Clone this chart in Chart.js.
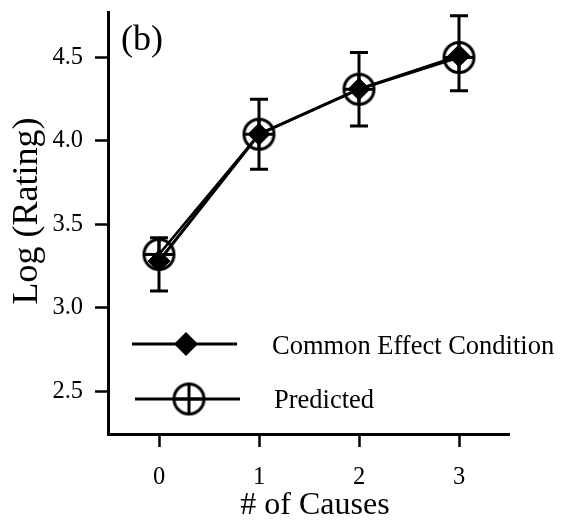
<!DOCTYPE html>
<html>
<head>
<meta charset="utf-8">
<script src="https://cdn.jsdelivr.net/npm/chart.js@4/dist/chart.umd.min.js"></script>
<style>
  html, body { margin: 0; padding: 0; background: #ffffff; }
  #wrap { position: relative; width: 561px; height: 527px; }
</style>
</head>
<body>
<div id="wrap"><canvas id="chart" width="561" height="527"></canvas></div>
<script>
// number of causes on the x axis
const causes = [0, 1, 2, 3];
// mean log rating, common effect condition, with error bar ends
const commonEffect = [3.28, 4.04, 4.31, 4.51];
const ceErrLow = [3.10, 3.83, 4.09, 4.30];
const ceErrHigh = [3.42, 4.25, 4.53, 4.75];
// model prediction
const predicted = [3.32, 4.04, 4.31, 4.50];

const xTickLabels = ['0', '1', '2', '3'];
const yTicks = [2.5, 3.0, 3.5, 4.0, 4.5];
const yTickLabels = ['2.5', '3.0', '3.5', '4.0', '4.5'];
const legendLabels = ['Common Effect Condition', 'Predicted'];
const xTitle = '# of Causes';
const yTitle = 'Log (Rating)';
const panelLabel = '(b)';

const SERIF = '"Liberation Serif", "Times New Roman", serif';

function circleCross(r, lw) {
    const size = Math.ceil(2 * r + lw + 2);
    const c = document.createElement('canvas');
    c.width = size;
    c.height = size;
    const g = c.getContext('2d');
    const m = size / 2;
    g.strokeStyle = '#000';
    g.lineWidth = lw;
    g.beginPath();
    g.arc(m, m, r, 0, Math.PI * 2);
    g.moveTo(m - r, m);
    g.lineTo(m + r, m);
    g.moveTo(m, m - r);
    g.lineTo(m, m + r);
    g.stroke();
    return c;
}

const predMarker = circleCross(15, 3);

function pts(ys) {
    return causes.map(function (x, i) {
        return { x: x, y: ys[i] };
    });
}

// error bars for the common effect condition, drawn through the scales
const errorBars = {
    id: 'errorBars',
    beforeDatasetsDraw: function (chart) {
        const xs = chart.scales.x;
        const ys = chart.scales.y;
        const ctx = chart.ctx;
        ctx.save();
        ctx.strokeStyle = '#000';
        ctx.lineWidth = 3;
        causes.forEach(function (c, i) {
            const px = xs.getPixelForValue(c);
            const lo = ys.getPixelForValue(ceErrLow[i]);
            const hi = ys.getPixelForValue(ceErrHigh[i]);
            ctx.beginPath();
            ctx.moveTo(px, lo);
            ctx.lineTo(px, hi);
            ctx.moveTo(px - 9, lo);
            ctx.lineTo(px + 9, lo);
            ctx.moveTo(px - 9, hi);
            ctx.lineTo(px + 9, hi);
            ctx.stroke();
        });
        ctx.restore();
    },
};

// legend inside the plot (line runs through the marker), panel label and axis titles
const annotations = {
    id: 'annotations',
    afterDraw: function (chart) {
        const ctx = chart.ctx;
        ctx.save();
        ctx.strokeStyle = '#000';
        ctx.fillStyle = '#000';
        ctx.lineWidth = 3;

        ctx.beginPath();
        ctx.moveTo(132, 344);
        ctx.lineTo(237, 344);
        ctx.moveTo(135, 399);
        ctx.lineTo(240, 399);
        ctx.stroke();

        ctx.beginPath();
        ctx.moveTo(186, 332);
        ctx.lineTo(198, 344);
        ctx.lineTo(186, 356);
        ctx.lineTo(174, 344);
        ctx.closePath();
        ctx.fill();

        ctx.drawImage(predMarker, 189 - predMarker.width / 2, 399 - predMarker.height / 2);

        ctx.font = '26.5px ' + SERIF;
        ctx.textBaseline = 'middle';
        ctx.textAlign = 'left';
        ctx.fillText(legendLabels[0], 272, 347);
        ctx.fillText(legendLabels[1], 274, 401);

        ctx.textBaseline = 'alphabetic';
        ctx.font = '36px ' + SERIF;
        ctx.fillText(panelLabel, 121, 50);

        ctx.font = '32px ' + SERIF;
        ctx.textAlign = 'center';
        ctx.fillText(xTitle, 315, 514);

        ctx.translate(37, 211);
        ctx.rotate(-Math.PI / 2);
        ctx.font = '36px ' + SERIF;
        ctx.fillText(yTitle, 0, 0);
        ctx.restore();
    },
};

new Chart(document.getElementById('chart').getContext('2d'), {
    type: 'line',
    data: {
        datasets: [
            {
                label: legendLabels[0],
                data: pts(commonEffect),
                borderColor: '#000',
                backgroundColor: '#000',
                borderWidth: 3,
                pointStyle: 'rectRot',
                pointRadius: 11,
                pointBorderWidth: 1,
                tension: 0,
            },
            {
                label: legendLabels[1],
                data: pts(predicted),
                borderColor: '#000',
                backgroundColor: 'transparent',
                borderWidth: 2.5,
                pointStyle: predMarker,
                tension: 0,
            },
        ],
    },
    options: {
        responsive: false,
        animation: false,
        events: [],
        layout: { padding: { top: 10, right: 52, left: 0, bottom: 0 } },
        plugins: {
            legend: { display: false },
            tooltip: { enabled: false },
        },
        scales: {
            x: {
                type: 'linear',
                min: -0.51,
                max: 3.5,
                afterFit: function (s) {
                    s.height = 93;
                    s.paddingLeft = 0;
                    s.paddingRight = 0;
                },
                afterBuildTicks: function (s) {
                    s.ticks = causes.map(function (v) {
                        return { value: v };
                    });
                },
                border: { display: true, width: 3, color: '#000' },
                grid: {
                    drawOnChartArea: false,
                    drawTicks: true,
                    tickLength: 13,
                    tickWidth: 2.5,
                    tickColor: '#000',
                },
                ticks: {
                    color: '#000',
                    padding: 16,
                    font: { family: SERIF, size: 24.5 },
                    callback: function (v) {
                        const i = causes.indexOf(v);
                        return i >= 0 ? xTickLabels[i] : '';
                    },
                },
            },
            y: {
                min: 2.2435,
                max: 4.7726,
                afterFit: function (s) {
                    s.width = 108;
                    s.paddingTop = 0;
                    s.paddingBottom = 0;
                },
                afterBuildTicks: function (s) {
                    s.ticks = yTicks.map(function (v) {
                        return { value: v };
                    });
                },
                border: { display: true, width: 3, color: '#000' },
                grid: {
                    drawOnChartArea: false,
                    drawTicks: true,
                    tickLength: 13,
                    tickWidth: 2.5,
                    tickColor: '#000',
                },
                ticks: {
                    color: '#000',
                    padding: 12,
                    font: { family: SERIF, size: 24.5 },
                    callback: function (v) {
                        const i = yTicks.indexOf(v);
                        return i >= 0 ? yTickLabels[i] : '';
                    },
                },
            },
        },
    },
    plugins: [errorBars, annotations],
});
</script>
</body>
</html>
